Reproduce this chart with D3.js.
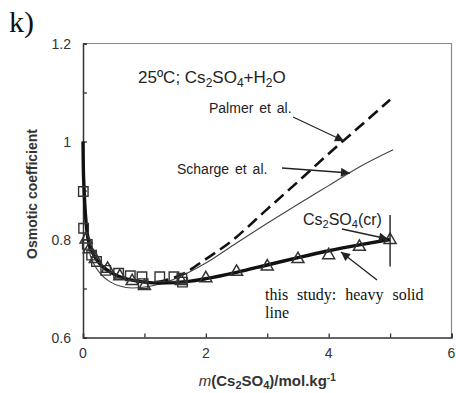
<!DOCTYPE html>
<html>
<head>
<meta charset="utf-8">
<script src="https://cdn.jsdelivr.net/npm/d3@7"></script>
<style>
  body { margin: 0; background: #fff; }
  svg { display: block; }
  .sans { font-family: Arial, "Liberation Sans", sans-serif; }
  .serif { font-family: "Times New Roman", "Liberation Serif", serif; }
</style>
</head>
<body>
<div id="chart"></div>
<script>
// Heavy solid line (this study)
const heavyM = [0, 0.005, 0.015, 0.03, 0.05, 0.075, 0.1, 0.15, 0.2, 0.3, 0.45, 0.6, 0.8, 1.0, 1.25, 1.5, 1.75, 2.0, 2.5, 3.0, 3.5, 4.0, 4.5, 5.0];
const heavyPhi = [1.0, 0.95, 0.91, 0.87, 0.835, 0.808, 0.792, 0.775, 0.763, 0.747, 0.733, 0.724, 0.717, 0.713, 0.711, 0.712, 0.715, 0.72, 0.733, 0.748, 0.763, 0.777, 0.789, 0.80];

// Thin line (Scharge et al.)
const schargeM = [0, 0.005, 0.015, 0.03, 0.05, 0.08, 0.12, 0.2, 0.3, 0.45, 0.6, 0.8, 1.0, 1.25, 1.5, 2.0, 2.5, 3.0, 3.5, 4.0, 4.5, 5.05];
const schargePhi = [1.0, 0.94, 0.895, 0.855, 0.82, 0.79, 0.767, 0.745, 0.728, 0.713, 0.705, 0.701, 0.703, 0.709, 0.72, 0.752, 0.793, 0.833, 0.872, 0.91, 0.948, 0.983];

// Dashed line (Palmer et al.)
const palmerM = [1.2, 1.6, 2.0, 2.4, 3.0, 3.5, 4.0, 4.5, 5.0];
const palmerPhi = [0.713, 0.728, 0.76, 0.795, 0.862, 0.918, 0.975, 1.03, 1.085];

// Squares
const sqM = [0.005, 0.01, 0.07, 0.14, 0.22, 0.37, 0.58, 0.77, 0.96, 0.98, 1.25, 1.48, 1.61, 1.62];
const sqPhi = [0.898, 0.823, 0.79, 0.768, 0.755, 0.737, 0.731, 0.726, 0.724, 0.71, 0.724, 0.724, 0.721, 0.713];

// Triangles
const triM = [0.05, 0.1, 0.2, 0.4, 0.6, 0.8, 1.0, 1.6, 2.0, 2.5, 3.0, 3.5, 4.0, 4.5, 5.0];
const triPhi = [0.80, 0.78, 0.76, 0.74, 0.725, 0.715, 0.705, 0.715, 0.721, 0.734, 0.745, 0.76, 0.768, 0.785, 0.799];

// Solubility limit marker
const solM = 5.0;
const solRange = [0.745, 0.85];

// Ticks
const xTickValues = [0, 1, 2, 3, 4, 5, 6];
const xTickLabels = [0, 2, 4, 6];
const yTickValues = [0.6, 0.7, 0.8, 0.9, 1.0, 1.1, 1.2];
const yTickLabels = [0.6, 0.8, 1.0, 1.2];

const w = 456;
const h = 393;
const margin = { top: 43.5, right: 4.5, bottom: 55.5, left: 83 };

const svg = d3.select('#chart')
  .append('svg')
  .attr('width', w)
  .attr('height', h);

const xScale = d3.scaleLinear()
  .domain([0, 6])
  .range([margin.left, w - margin.right]);

const yScale = d3.scaleLinear()
  .domain([0.6, 1.2])
  .range([h - margin.bottom, margin.top]);

const zip = (a, b) => a.map((v, i) => [v, b[i]]);

// frame: top and right lighter
svg.append('path')
  .attr('d', 'M' + xScale(0) + ',' + yScale(1.2) + 'H' + xScale(6) + 'V' + yScale(0.6))
  .attr('fill', 'none')
  .attr('stroke', '#8a8a8a')
  .attr('stroke-width', 1.2);

// Axes (ticks point inward)
const xAxis = d3.axisTop(xScale)
  .tickValues(xTickValues)
  .tickSize(4)
  .tickFormat('');
const yAxis = d3.axisRight(yScale)
  .tickValues(yTickValues)
  .tickSize(4)
  .tickFormat('');

const gx = svg.append('g')
  .attr('transform', 'translate(0,' + yScale(0.6) + ')')
  .call(xAxis);
const gy = svg.append('g')
  .attr('transform', 'translate(' + xScale(0) + ',0)')
  .call(yAxis);
[gx, gy].forEach(function (g) {
  g.select('.domain').attr('stroke', '#333').attr('stroke-width', 1.5);
  g.selectAll('.tick line').attr('stroke', '#333').attr('stroke-width', 1.3);
});

// tick labels
svg.append('g').selectAll('text')
  .data(xTickLabels)
  .enter()
  .append('text')
  .attr('class', 'sans')
  .attr('x', d => xScale(d))
  .attr('y', 358)
  .attr('text-anchor', 'middle')
  .attr('font-size', 14)
  .attr('fill', '#333')
  .text(d => d);

svg.append('g').selectAll('text')
  .data(yTickLabels)
  .enter()
  .append('text')
  .attr('class', 'sans')
  .attr('x', 71)
  .attr('y', d => yScale(d) + 5)
  .attr('text-anchor', 'end')
  .attr('font-size', 14)
  .attr('fill', '#333')
  .text(d => d === 1 ? '1' : d3.format('.1f')(d));

// axis titles
const xt = svg.append('text')
  .attr('class', 'sans')
  .attr('x', (xScale(0) + xScale(6)) / 2)
  .attr('y', 386)
  .attr('text-anchor', 'middle')
  .attr('font-size', 15)
  .attr('font-weight', 'bold')
  .attr('fill', '#333');
xt.append('tspan').attr('font-style', 'italic').attr('font-weight', 'normal').text('m');
xt.append('tspan').text('(Cs');
xt.append('tspan').attr('font-size', 11).attr('dy', 3).text('2');
xt.append('tspan').attr('dy', -3).text('SO');
xt.append('tspan').attr('font-size', 11).attr('dy', 3).text('4');
xt.append('tspan').attr('dy', -3).text(')/mol.kg');
xt.append('tspan').attr('font-size', 10).attr('dy', -5).text('-1');

svg.append('text')
  .attr('class', 'sans')
  .attr('transform', 'translate(37,' + 194 + ') rotate(-90)')
  .attr('text-anchor', 'middle')
  .attr('font-size', 14)
  .attr('font-weight', 'bold')
  .attr('fill', '#333')
  .text('Osmotic coefficient');

// panel letter
svg.append('text')
  .attr('class', 'serif')
  .attr('x', 9)
  .attr('y', 32)
  .attr('font-size', 30)
  .attr('fill', '#111')
  .text('k)');

// curves
const line = d3.line()
  .x(d => xScale(d[0]))
  .y(d => yScale(d[1]))
  .curve(d3.curveMonotoneX);

svg.append('path')
  .datum(zip(schargeM, schargePhi))
  .attr('d', line)
  .attr('fill', 'none')
  .attr('stroke', '#444')
  .attr('stroke-width', 1.1);

svg.append('path')
  .datum(zip(palmerM, palmerPhi))
  .attr('d', line)
  .attr('fill', 'none')
  .attr('stroke', '#111')
  .attr('stroke-width', 2.6)
  .attr('stroke-dasharray', '12,6');

svg.append('path')
  .datum(zip(heavyM, heavyPhi))
  .attr('d', line)
  .attr('fill', 'none')
  .attr('stroke', '#111')
  .attr('stroke-width', 3.4);

// markers
svg.append('g').selectAll('path')
  .data(zip(sqM, sqPhi))
  .enter()
  .append('path')
  .attr('transform', d => 'translate(' + xScale(d[0]) + ',' + yScale(d[1]) + ')')
  .attr('d', d3.symbol().type(d3.symbolSquare).size(90))
  .attr('fill', 'none')
  .attr('stroke', '#333')
  .attr('stroke-width', 1.4);

svg.append('g').selectAll('path')
  .data(zip(triM, triPhi))
  .enter()
  .append('path')
  .attr('transform', d => 'translate(' + xScale(d[0]) + ',' + yScale(d[1]) + ')')
  .attr('d', d3.symbol().type(d3.symbolTriangle).size(62))
  .attr('fill', 'none')
  .attr('stroke', '#333')
  .attr('stroke-width', 1.5);

// solubility marker
svg.append('line')
  .attr('x1', xScale(solM)).attr('x2', xScale(solM))
  .attr('y1', yScale(solRange[0])).attr('y2', yScale(solRange[1]))
  .attr('stroke', '#222')
  .attr('stroke-width', 1.4);

// arrows
svg.append('defs').append('marker')
  .attr('id', 'ah')
  .attr('viewBox', '0 0 10 10')
  .attr('refX', 10).attr('refY', 5)
  .attr('markerWidth', 11).attr('markerHeight', 9)
  .attr('markerUnits', 'userSpaceOnUse')
  .attr('orient', 'auto')
  .append('path')
  .attr('d', 'M0,0L10,5L0,10Z')
  .attr('fill', '#222');

const arrows = [
  [293, 117, 344, 141],
  [282, 168, 350, 173],
  [342, 229, 388, 239],
  [377, 280, 341, 252]
];
svg.append('g').selectAll('line')
  .data(arrows)
  .enter()
  .append('line')
  .attr('x1', d => d[0]).attr('y1', d => d[1])
  .attr('x2', d => d[2]).attr('y2', d => d[3])
  .attr('stroke', '#222')
  .attr('stroke-width', 1.3)
  .attr('marker-end', 'url(#ah)');

// annotations
const title = svg.append('text')
  .attr('class', 'sans')
  .attr('x', 138)
  .attr('y', 83)
  .attr('font-size', 17)
  .attr('fill', '#222');
title.append('tspan').text('25ºC; Cs');
title.append('tspan').attr('font-size', 12).attr('dy', 4).text('2');
title.append('tspan').attr('dy', -4).text('SO');
title.append('tspan').attr('font-size', 12).attr('dy', 4).text('4');
title.append('tspan').attr('dy', -4).text('+H');
title.append('tspan').attr('font-size', 12).attr('dy', 4).text('2');
title.append('tspan').attr('dy', -4).text('O');

svg.append('text')
  .attr('class', 'sans')
  .attr('x', 209)
  .attr('y', 113)
  .attr('font-size', 14)
  .attr('word-spacing', 2)
  .attr('fill', '#222')
  .text('Palmer et al.');

svg.append('text')
  .attr('class', 'sans')
  .attr('x', 177)
  .attr('y', 174)
  .attr('font-size', 14)
  .attr('word-spacing', 2)
  .attr('fill', '#222')
  .text('Scharge et al.');

const cr = svg.append('text')
  .attr('class', 'sans')
  .attr('x', 303)
  .attr('y', 225)
  .attr('font-size', 16)
  .attr('fill', '#222');
cr.append('tspan').text('Cs');
cr.append('tspan').attr('font-size', 11).attr('dy', 3).text('2');
cr.append('tspan').attr('dy', -3).text('SO');
cr.append('tspan').attr('font-size', 11).attr('dy', 3).text('4');
cr.append('tspan').attr('dy', -3).text('(cr)');

svg.append('text')
  .attr('class', 'serif')
  .attr('x', 265)
  .attr('y', 300)
  .attr('font-size', 16)
  .attr('word-spacing', 5)
  .attr('fill', '#111')
  .text('this study: heavy solid');

svg.append('text')
  .attr('class', 'serif')
  .attr('x', 265)
  .attr('y', 318)
  .attr('font-size', 16)
  .attr('fill', '#111')
  .text('line');
</script>
</body>
</html>
